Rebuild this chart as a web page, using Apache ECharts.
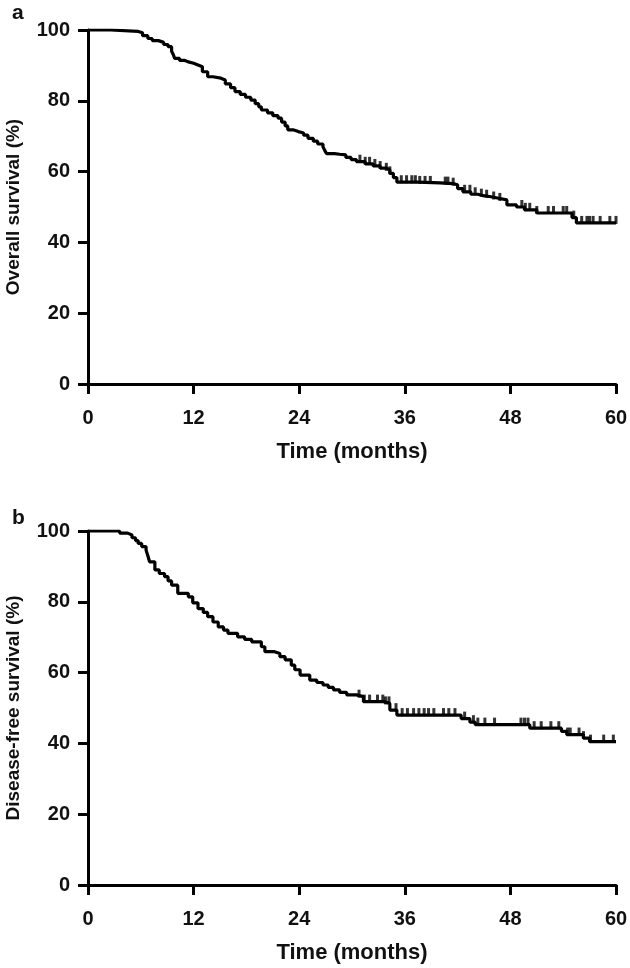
<!DOCTYPE html>
<html>
<head>
<meta charset="utf-8">
<script src="https://cdn.jsdelivr.net/npm/echarts@6/dist/echarts.min.js"></script>
<style>
html,body{margin:0;padding:0;background:#fff;}
#chart{width:630px;height:968px;}
</style>
</head>
<body>
<div id="chart"></div>
<script>
// ---- data ----
var xTicks = [0, 12, 24, 36, 48, 60];
var yTicks = [0, 20, 40, 60, 80, 100];
var panelLabels = ['a', 'b'];
var yTitles = ['Overall survival (%)', 'Disease-free survival (%)'];
var xTitle = 'Time (months)';

// Overall survival: event times (months) and survival (%) after each event
var osTime = [0, 2.6, 5.7, 6.2, 6.8, 7.3, 8.0, 8.6, 9.1, 9.5, 9.7, 9.85, 10.4, 11.0, 11.4, 12.0, 12.5, 13.0, 13.6, 14.2, 15.1, 15.6, 16.2, 16.7, 17.3, 17.9, 18.5, 19.0, 19.4, 19.7, 20.4, 21.0, 21.6, 22.0, 22.4, 22.7, 23.3, 23.9, 24.5, 25.0, 25.6, 26.1, 26.7, 26.9, 27.1, 28.0, 28.6, 29.3, 29.9, 30.5, 31.5, 32.4, 33.2, 33.9, 34.3, 34.7, 35.1, 37.5, 40.0, 41.5, 42.0, 42.6, 43.5, 44.3, 44.9, 45.8, 46.8, 47.6, 48.7, 49.6, 51.0, 55.0, 55.5, 60.0];
var osSurv = [100, 99.6, 99.2, 98.4, 97.6, 97.0, 96.5, 95.9, 95.3, 94.0, 93.0, 92.0, 91.4, 91.0, 90.6, 90.1, 89.6, 88.2, 86.8, 86.4, 85.9, 84.8, 83.7, 82.6, 81.8, 81.0, 80.2, 79.2, 78.3, 77.4, 76.6, 75.8, 75.1, 74.0, 72.9, 71.8, 71.3, 70.9, 70.3, 69.4, 68.6, 67.8, 67.0, 66.0, 65.1, 64.9, 64.7, 64.0, 63.4, 62.8, 62.2, 61.6, 61.0, 60.5, 59.5, 58.3, 57.0, 56.8, 56.6, 56.3, 55.2, 54.3, 53.6, 53.2, 52.9, 52.4, 52.0, 50.6, 50.0, 49.2, 48.3, 47.0, 45.5, 45.5];
var osCensor = [30.9, 31.5, 32.0, 32.6, 33.2, 33.9, 34.3, 35.6, 36.2, 36.8, 37.2, 37.7, 38.3, 38.9, 40.6, 40.9, 41.5, 42.8, 43.4, 44.0, 44.7, 45.3, 46.1, 46.8, 49.3, 49.7, 50.2, 51.0, 52.3, 52.9, 54.0, 54.4, 55.2, 56.1, 56.7, 57.0, 57.4, 58.2, 59.3, 60.0];

// Disease-free survival
var dfsTime = [0, 3.6, 4.5, 5.0, 5.4, 5.7, 6.1, 6.6, 6.8, 7.0, 7.6, 8.1, 8.7, 9.1, 9.5, 10.2, 11.4, 11.9, 12.5, 13.1, 13.6, 14.2, 14.8, 15.4, 15.9, 17.0, 17.8, 18.6, 19.7, 20.1, 21.2, 21.8, 22.4, 23.1, 23.5, 24.1, 25.2, 26.0, 26.7, 27.3, 27.9, 28.6, 29.4, 30.5, 31.3, 33.6, 34.3, 35.1, 42.4, 43.4, 44.0, 50.2, 53.8, 54.4, 56.3, 57.0, 60.0];
var dfsSurv = [100, 99.4, 98.9, 98.1, 97.3, 96.5, 95.6, 94.6, 93.0, 91.3, 89.0, 88.0, 87.1, 85.9, 84.7, 82.4, 81.4, 79.7, 78.1, 77.0, 75.8, 74.3, 72.9, 72.0, 71.1, 70.1, 69.4, 68.7, 67.3, 65.9, 65.4, 64.5, 63.6, 62.1, 60.8, 59.3, 57.9, 57.2, 56.5, 55.8, 55.1, 54.4, 53.7, 53.2, 51.8, 51.3, 49.4, 48.0, 47.0, 46.0, 45.3, 44.3, 43.4, 42.5, 41.5, 40.5, 40.5];
var dfsCensor = [30.8, 31.4, 32.0, 32.9, 33.5, 33.8, 34.2, 35.0, 35.7, 36.3, 37.0, 37.6, 38.2, 38.7, 39.3, 40.4, 41.0, 41.7, 42.8, 43.8, 44.3, 45.1, 46.2, 49.2, 49.6, 50.0, 50.7, 51.5, 52.6, 53.5, 54.5, 54.8, 55.8, 56.3, 57.1, 58.6, 59.7];

// ---- build ----
function pairs(t, s) { return t.map(function (v, i) { return [v, s[i]]; }); }
function survAt(t, times, surv) {
  var v = surv[0];
  for (var i = 0; i < times.length; i++) { if (times[i] <= t) v = surv[i]; }
  return v;
}
function censorPts(c, times, surv) { return c.map(function (t) { return [t, survAt(t, times, surv)]; }); }

var FONT = '"Liberation Sans", Arial, sans-serif';
var txt = { fontFamily: FONT, fontWeight: 'bold', color: '#111', fontSize: 20 };

var grids = [
  { left: 88, top: 30, width: 528, height: 354, containLabel: false, outerBoundsMode: 'none' },
  { left: 88, top: 531, width: 528, height: 354, containLabel: false, outerBoundsMode: 'none' }
];

function xAx(i) {
  return {
    type: 'value', gridIndex: i, min: 0, max: 60, interval: 12,
    name: xTitle, nameLocation: 'middle', nameGap: 57,
    nameTextStyle: Object.assign({}, txt, { fontSize: 22 }),
    axisLine: { onZero: false, lineStyle: { color: '#000', width: 3 } },
    axisTick: { show: true, inside: false, length: 10, lineStyle: { color: '#000', width: 3 } },
    axisLabel: Object.assign({ margin: 24 }, txt),
    splitLine: { show: false }
  };
}
function yAx(i) {
  return {
    type: 'value', gridIndex: i, min: 0, max: 100, interval: 20,
    name: yTitles[i], nameLocation: 'middle', nameGap: 65,
    nameTextStyle: Object.assign({}, txt, { fontSize: 19 }),
    axisLine: { show: true, lineStyle: { color: '#000', width: 3 } },
    axisTick: { show: true, inside: false, length: 10, lineStyle: { color: '#000', width: 3 } },
    axisLabel: Object.assign({ margin: 18 }, txt),
    splitLine: { show: false }
  };
}

var sets = [
  { t: osTime, s: osSurv, c: osCensor },
  { t: dfsTime, s: dfsSurv, c: dfsCensor }
];
var series = [];
sets.forEach(function (d, i) {
  series.push({
    type: 'line', xAxisIndex: i, yAxisIndex: i, step: 'end',
    data: pairs(d.t, d.s), showSymbol: false, symbol: 'none',
    lineStyle: { color: '#000', width: 3.2 }, silent: true, animation: false
  });
  series.push({
    type: 'scatter', xAxisIndex: i, yAxisIndex: i,
    data: censorPts(d.c, d.t, d.s), symbol: 'rect', symbolSize: [3, 8], symbolOffset: [0, -3],
    itemStyle: { color: '#000' }, silent: true, animation: false
  });
});

var chart = echarts.init(document.getElementById('chart'), null, { renderer: 'canvas' });
chart.setOption({
  backgroundColor: '#fff',
  animation: false,
  title: [
    { text: panelLabels[0], left: 7, top: -2, textStyle: Object.assign({}, txt, { fontSize: 21 }) },
    { text: panelLabels[1], left: 7, top: 503, textStyle: Object.assign({}, txt, { fontSize: 21 }) }
  ],
  grid: grids,
  xAxis: [xAx(0), xAx(1)],
  yAxis: [yAx(0), yAx(1)],
  series: series
});
</script>
</body>
</html>
